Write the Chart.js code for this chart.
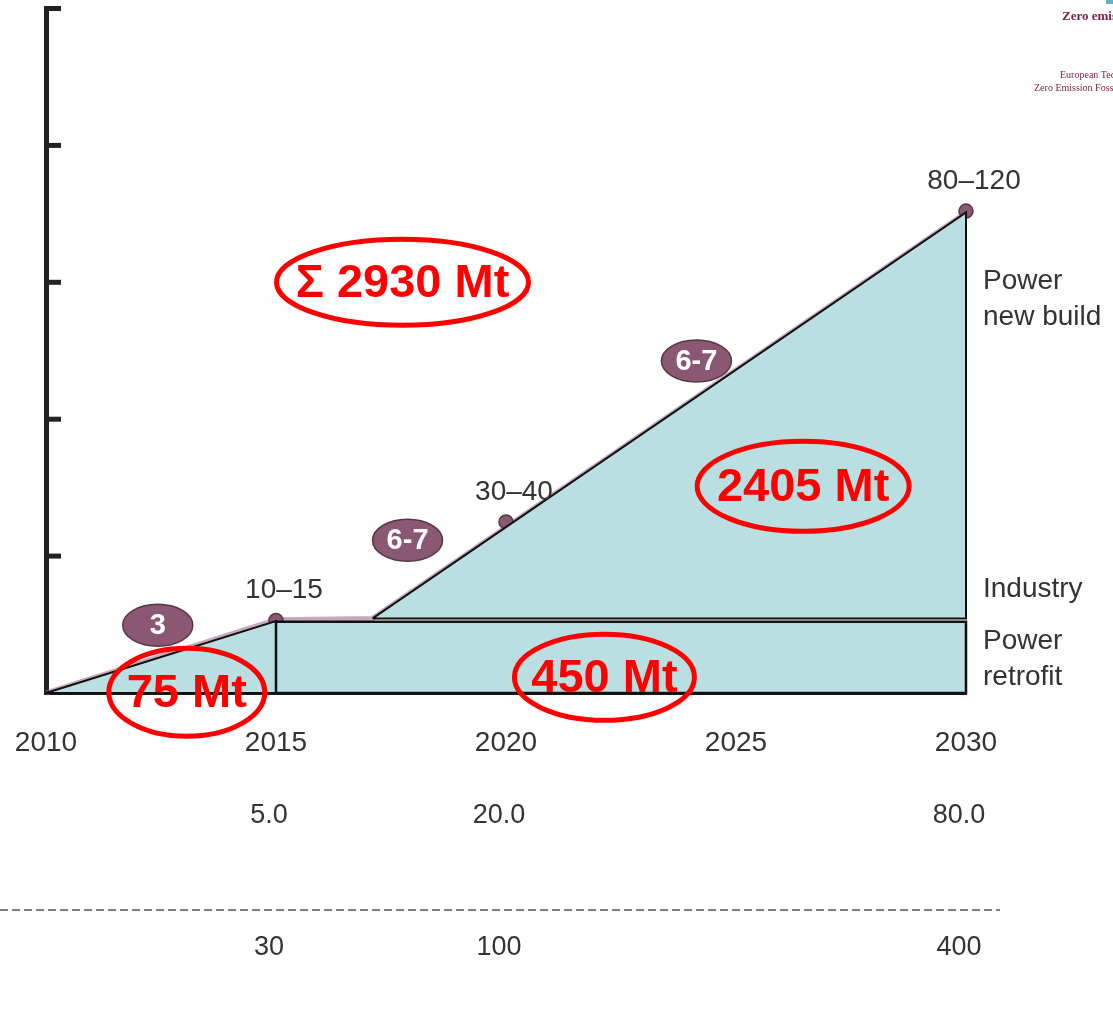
<!DOCTYPE html>
<html>
<head>
<meta charset="utf-8">
<script src="https://cdn.jsdelivr.net/npm/chart.js@4.4.1/dist/chart.umd.min.js"></script>
<style>
  html, body { margin: 0; padding: 0; background: #ffffff; }
  #wrap { width: 1113px; height: 1034px; position: relative; }
</style>
</head>
<body>
<div id="wrap"><canvas id="c" width="1113" height="1034"></canvas></div>
<script>
// ---------- DATA ----------
const xTickYears = [2010, 2015, 2020, 2025, 2030];

// Power retrofit ramp-up (2010-2015) - "75 Mt"
const earlyX = [2010, 2015, 2015, 2010];
const earlyY = [0, 10.5, 0, 0];

// Power retrofit plateau (2015-2030) - "450 Mt"
const retrofitX = [2015, 2015, 2030, 2030, 2015];
const retrofitY = [0, 10.4, 10.4, 0, 0];

// Power new build / industry wedge (2017-2030) - "2405 Mt"
const newBuildX = [2017.1, 2030, 2030, 2017.1];
const newBuildY = [10.9, 70.2, 10.9, 10.9];

// Milestones (number of plants)
const milestoneYears = [2015, 2020, 2030];
const milestoneValues = [10.6, 25.0, 70.4];
const milestoneLabels = ['10–15', '30–40', '80–120'];

// Build rates (plants per year)
const rateLabels = ['3', '6-7', '6-7'];
const rateYears = [2012.43, 2017.86, 2024.14];
const rateValues = [9.9, 22.3, 48.5];

// Cumulative storage totals
const totalLabels = ['Σ 2930 Mt', '2405 Mt', '450 Mt', '75 Mt'];
const totalYears = [2017.75, 2026.46, 2022.14, 2013.06];
const totalValues = [60.0, 30.2, 2.3, 0.1];

// Series labels on the right
const seriesLabels = [['Power', 'new build'], ['Industry'], ['Power', 'retrofit']];
const seriesLabelValues = [57.5, 15.2, 4.95];

// Rows under the axis
const rowYears = [2015, 2020, 2030];
const rowA = ['5.0', '20.0', '80.0'];
const rowB = ['30', '100', '400'];

// ---------- HELPERS ----------
const pts = (xs, ys) => xs.map((x, i) => ({ x: x, y: ys[i] }));
const FONT = "'Liberation Sans', Arial, Helvetica, sans-serif";
const TEAL = '#badfe2';
const PURPLE = '#8b5874';
const TEXT = '#333333';

const overlay = {
  id: 'overlay',
  afterDraw(chart) {
    const ctx = chart.ctx;
    const xs = chart.scales.x, ys = chart.scales.y;
    const ca = chart.chartArea;
    ctx.save();

    // y-axis inward tick marks
    ctx.strokeStyle = '#222';
    ctx.lineWidth = 5;
    ctx.lineCap = 'butt';
    ys.ticks.forEach(t => {
      if (t.value === 0) return;
      const py = ys.getPixelForValue(t.value);
      ctx.beginPath();
      ctx.moveTo(ca.left, py);
      ctx.lineTo(ca.left + 15, py);
      ctx.stroke();
    });

    // milestone labels
    ctx.fillStyle = TEXT;
    ctx.font = '28px ' + FONT;
    ctx.textAlign = 'center';
    ctx.textBaseline = 'middle';
    milestoneYears.forEach((yr, i) => {
      const px = xs.getPixelForValue(yr), py = ys.getPixelForValue(milestoneValues[i]);
      ctx.fillText(milestoneLabels[i], px + 8, py - 30);
    });

    // series labels on the right
    ctx.textAlign = 'left';
    seriesLabels.forEach((lines, i) => {
      const cy = ys.getPixelForValue(seriesLabelValues[i]);
      const lh = 36;
      const y0 = cy - (lines.length - 1) * lh / 2;
      lines.forEach((ln, j) => ctx.fillText(ln, ca.right + 17, y0 + j * lh));
    });

    // build-rate badges
    rateLabels.forEach((lab, i) => {
      const px = xs.getPixelForValue(rateYears[i]), py = ys.getPixelForValue(rateValues[i]);
      ctx.beginPath();
      ctx.ellipse(px, py, 35, 21, 0, 0, Math.PI * 2);
      ctx.fillStyle = PURPLE;
      ctx.fill();
      ctx.lineWidth = 1.5;
      ctx.strokeStyle = '#5a3548';
      ctx.stroke();
      ctx.fillStyle = '#ffffff';
      ctx.font = 'bold 29px ' + FONT;
      ctx.textAlign = 'center';
      ctx.fillText(lab, px, py + 1);
    });

    // red total ellipses
    const radii = [[126, 43], [106, 45], [90, 43], [78, 44]];
    totalLabels.forEach((lab, i) => {
      const px = xs.getPixelForValue(totalYears[i]), py = ys.getPixelForValue(totalValues[i]);
      ctx.fillStyle = '#ff0000';
      ctx.font = 'bold 47px ' + FONT;
      ctx.textAlign = 'center';
      ctx.fillText(lab, px, py + 2);
      ctx.beginPath();
      ctx.ellipse(px, py, radii[i][0], radii[i][1], 0, 0, Math.PI * 2);
      ctx.strokeStyle = '#ff0000';
      ctx.lineWidth = 5;
      ctx.stroke();
    });

    // rows under the axis
    ctx.fillStyle = TEXT;
    ctx.font = '27px ' + FONT;
    ctx.textAlign = 'center';
    rowYears.forEach((yr, i) => {
      const px = xs.getPixelForValue(yr) - 7;
      ctx.fillText(rowA[i], px, ca.bottom + 123);
      ctx.fillText(rowB[i], px, ca.bottom + 255);
    });
    // dashed separator
    ctx.strokeStyle = '#555';
    ctx.lineWidth = 1.3;
    ctx.setLineDash([8, 4]);
    ctx.beginPath();
    ctx.moveTo(0, ca.bottom + 217);
    ctx.lineTo(1000, ca.bottom + 217);
    ctx.stroke();
    ctx.setLineDash([]);

    // logo text (top right, cut by the edge)
    ctx.fillStyle = '#7a1f3d';
    ctx.textAlign = 'left';
    ctx.font = 'bold 13px "Liberation Serif", "DejaVu Serif", serif';
    ctx.fillText('Zero emission', 1062, 17);
    ctx.font = '10px "Liberation Serif", "DejaVu Serif", serif';
    ctx.fillText('European Technology Platform', 1060, 75);
    ctx.fillText('Zero Emission Fossil Fuel', 1034, 88);
    ctx.fillStyle = '#5fb3c0';
    ctx.fillRect(1106, 0, 7, 4);

    ctx.restore();
  }
};

new Chart(document.getElementById('c'), {
  type: 'line',
  data: {
    datasets: [
      {
        label: 'Power retrofit ramp-up',
        data: pts(earlyX, earlyY),
        fill: 'shape', backgroundColor: TEAL,
        borderColor: '#111', borderWidth: 2, pointRadius: 0, tension: 0, clip: false, order: 3
      },
      {
        label: 'Power retrofit',
        data: pts(retrofitX, retrofitY),
        fill: 'shape', backgroundColor: TEAL,
        borderColor: '#111', borderWidth: 2.5, pointRadius: 0, tension: 0, clip: false, order: 2
      },
      {
        label: 'Power new build / Industry',
        data: pts(newBuildX, newBuildY),
        fill: 'shape', backgroundColor: TEAL,
        borderColor: '#111', borderWidth: 2, pointRadius: 0, tension: 0, clip: false, order: 1
      },
      {
        label: 'Milestones',
        data: pts(milestoneYears, milestoneValues),
        showLine: false, fill: false,
        pointRadius: 7, pointBackgroundColor: PURPLE, pointBorderColor: '#5a3548', pointBorderWidth: 1.5,
        clip: false, order: 5
      },
      {
        label: 'Pathway',
        data: [{ x: 2010, y: 0 }, { x: 2015, y: 10.7 }, { x: 2017.1, y: 10.9 }, { x: 2030, y: 70.2 }],
        fill: false, borderColor: 'rgba(150,100,130,0.55)', borderWidth: 5,
        pointRadius: 0, tension: 0, clip: false, order: 6
      }
    ]
  },
  options: {
    responsive: false,
    animation: false,
    devicePixelRatio: 1,
    layout: { padding: { left: 0, right: 147, top: 8, bottom: 0 } },
    plugins: { legend: { display: false }, tooltip: { enabled: false } },
    scales: {
      x: {
        type: 'linear', min: 2010, max: 2030,
        afterFit: s => { s.height = 341; s.paddingLeft = 0; s.paddingRight = 0; },
        afterBuildTicks: s => { s.ticks = xTickYears.map(v => ({ value: v })); },
        grid: { display: false, drawTicks: false },
        border: { display: true, color: '#1a1a1a', width: 4 },
        ticks: {
          callback: v => String(v),
          color: TEXT, font: { size: 28, family: FONT }, padding: 33, maxRotation: 0, autoSkip: false
        }
      },
      y: {
        type: 'linear', min: 0, max: 100,
        afterFit: s => { s.width = 46; s.paddingTop = 0; s.paddingBottom = 0; },
        ticks: { display: false, stepSize: 20 },
        grid: { display: false, drawTicks: false },
        border: { display: true, color: '#222', width: 5 }
      }
    }
  },
  plugins: [overlay]
});
</script>
</body>
</html>
